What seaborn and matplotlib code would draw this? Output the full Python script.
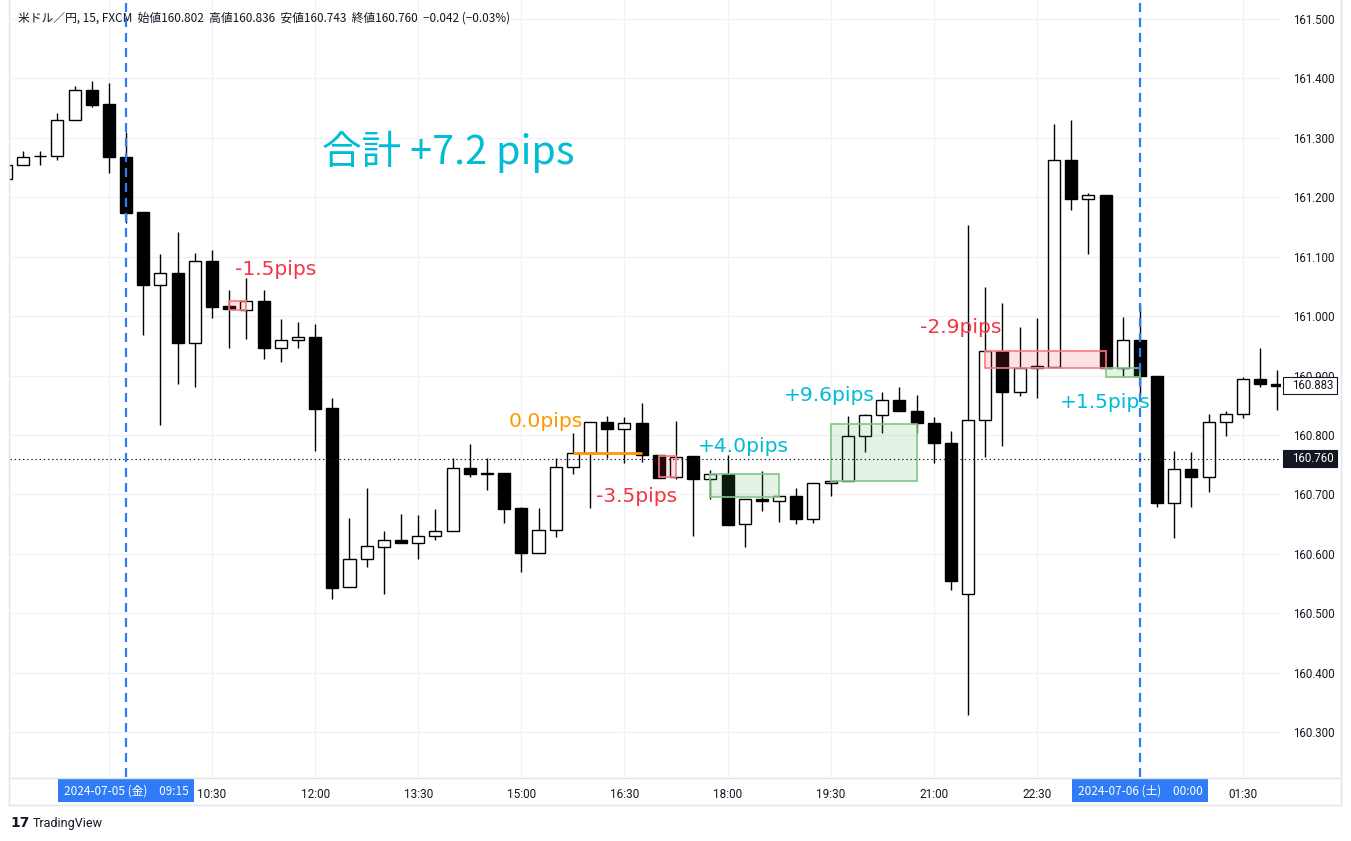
import numpy as np
import pandas as pd
import matplotlib.pyplot as plt
from matplotlib.patches import Rectangle
from matplotlib.lines import Line2D
from matplotlib.transforms import Bbox, blended_transform_factory
import seaborn as sns

# USD/JPY 15 min candles, 2024-07-05 07:30 -> 2024-07-06 02:00 (FXCM)
opens = [161.231, 161.255, 161.269, 161.269, 161.330, 161.380, 161.357, 161.267,
         161.175, 161.053, 161.072, 160.954, 161.092, 161.017, 161.011, 161.025,
         160.946, 160.959, 160.965, 160.845, 160.544, 160.592, 160.612, 160.624,
         160.618, 160.630, 160.638, 160.744, 160.735, 160.736, 160.677, 160.602,
         160.640, 160.746, 160.769, 160.822, 160.810, 160.820, 160.767, 160.729,
         160.765, 160.725, 160.735, 160.650, 160.692, 160.688, 160.697, 160.659,
         160.719, 160.722, 160.799, 160.833, 160.858, 160.841, 160.820, 160.786,
         160.533, 160.825, 160.942, 160.873, 160.912, 160.915, 161.262, 161.197,
         161.203, 160.913, 160.959, 160.899, 160.685, 160.742, 160.730, 160.822,
         160.836, 160.894, 160.885]
highs = [161.258, 161.278, 161.278, 161.342, 161.387, 161.396, 161.393, 161.310,
         161.175, 161.105, 161.141, 161.106, 161.111, 161.044, 161.064, 161.044,
         160.995, 160.990, 160.987, 160.862, 160.660, 160.711, 160.638, 160.667,
         160.665, 160.675, 160.761, 160.785, 160.761, 160.736, 160.679, 160.677,
         160.761, 160.803, 160.822, 160.832, 160.830, 160.853, 160.767, 160.824,
         160.765, 160.741, 160.766, 160.692, 160.740, 160.697, 160.710, 160.719,
         160.722, 160.832, 160.835, 160.872, 160.880, 160.867, 160.830, 160.806,
         161.153, 161.049, 161.022, 160.982, 160.996, 161.323, 161.330, 161.207,
         161.203, 160.998, 161.019, 160.899, 160.773, 160.771, 160.835, 160.840,
         160.897, 160.946, 160.909]
lows = [161.228, 161.255, 161.255, 161.263, 161.330, 161.352, 161.241, 161.157,
        160.968, 160.817, 160.885, 160.880, 160.997, 160.946, 160.962, 160.927,
        160.923, 160.947, 160.773, 160.524, 160.544, 160.577, 160.533, 160.618,
        160.591, 160.624, 160.638, 160.730, 160.707, 160.651, 160.570, 160.602,
        160.629, 160.735, 160.677, 160.762, 160.752, 160.755, 160.728, 160.726,
        160.630, 160.693, 160.649, 160.612, 160.672, 160.654, 160.650, 160.652,
        160.697, 160.722, 160.772, 160.804, 160.841, 160.803, 160.753, 160.539,
        160.329, 160.763, 160.781, 160.865, 160.862, 160.915, 161.178, 161.105,
        160.912, 160.897, 160.868, 160.679, 160.626, 160.679, 160.704, 160.799,
        160.829, 160.880, 160.842]
closes = [161.255, 161.268, 161.269, 161.330, 161.380, 161.356, 161.267, 161.174,
          161.053, 161.072, 160.954, 161.092, 161.016, 161.012, 161.025, 160.946,
          160.959, 160.964, 160.844, 160.543, 160.592, 160.613, 160.624, 160.618,
          160.630, 160.638, 160.744, 160.735, 160.735, 160.676, 160.602, 160.640,
          160.746, 160.770, 160.822, 160.810, 160.820, 160.767, 160.728, 160.763,
          160.725, 160.735, 160.649, 160.692, 160.688, 160.697, 160.659, 160.719,
          160.722, 160.799, 160.833, 160.858, 160.841, 160.820, 160.786, 160.554,
          160.825, 160.942, 160.872, 160.912, 160.916, 161.262, 161.197, 161.203,
          160.912, 160.959, 160.899, 160.685, 160.742, 160.730, 160.822, 160.835,
          160.894, 160.885, 160.883]

tick_labels = ["07:30", "", "10:30", "12:00", "13:30", "15:00", "16:30",
               "18:00", "19:30", "21:00", "22:30", "", "01:30"]
price_ticks = [161.5, 161.4, 161.3, 161.2, 161.1, 161.0, 160.9,
               160.8, 160.7, 160.6, 160.5, 160.4, 160.3]

# trades (candle positions + prices)
trade_start = [13, 33, 38, 41, 48, 57, 64]
trade_end = [14, 37, 39, 45, 53, 64, 66]
trade_entry = [161.026, 160.770, 160.764, 160.735, 160.722, 160.942, 160.913]
trade_exit = [161.011, 160.770, 160.729, 160.695, 160.818, 160.913, 160.898]
trade_pips = ["-1.5pips", "0.0pips", "-3.5pips", "+4.0pips", "+9.6pips", "-2.9pips", "+1.5pips"]
label_x = [13.34, 29.28, 34.35, 40.28, 45.29, 53.2, 61.35]
label_y = [161.078, 160.823, 160.696, 160.780, 160.867, 160.980, 160.855]
total_text = "合計 +7.2 pips"

session_pos = [7, 66]
session_labels = ["2024-07-05 (金)　09:15", "2024-07-06 (土)　00:00"]
crosshair_price = 160.760
last_price = 160.883
header = "米ドル／円, 15, FXCM  始値160.802  高値160.836  安値160.743  終値160.760  −0.042 (−0.03%)"

RED = "#F23645"
CYAN = "#00BCD4"
ORANGE = "#FF9800"
BLUE = "#2F7CF6"
TXT = "#131722"

df = pd.DataFrame({"open": opens, "high": highs, "low": lows, "close": closes})
df["pos"] = np.arange(len(df))
df["up"] = df["close"] >= df["open"]

sns.set_theme(style="white")
plt.rcParams["font.family"] = ["Roboto", "Noto Sans CJK JP", "DejaVu Sans"]
plt.rcParams["lines.scale_dashes"] = False

W, H = 1351, 841
fig = plt.figure(figsize=(W / 100, H / 100), dpi=100)
fig.patch.set_facecolor("white")
ax = fig.add_axes([10 / W, (H - 777) / H, (1281 - 10) / W, 777 / H])

# grid
ax.set_xticks(np.arange(0, len(df), 6))
ax.set_xticklabels(tick_labels)
ax.set_yticks(price_ticks)
ax.set_yticklabels([f"{p:.3f}" for p in price_ticks])
ax.grid(True, color="#F0F2F6", lw=1.0, zorder=0)
ax.set_axisbelow(True)

# candles
ax.vlines(df["pos"], df["low"], df["high"], color="black", lw=1.0, zorder=2)
bottom = df[["open", "close"]].min(axis=1)
height = (df["close"] - df["open"]).abs().clip(lower=0.0004)
ax.bar(df["pos"], height, bottom=bottom, width=0.7,
       color=np.where(df["up"], "white", "black"), edgecolor="black", lw=1.0, zorder=3)

# trade boxes
for s, e, en, ex, lab in zip(trade_start, trade_end, trade_entry, trade_exit, trade_pips):
    if lab.startswith("0"):
        ax.hlines(en, s, e, color=ORANGE, lw=2, zorder=4)
        continue
    win = lab.startswith("+")
    fc = (0.30, 0.69, 0.31, 0.15) if win else (0.95, 0.21, 0.27, 0.15)
    ec = "#81C784" if win else "#F77C80"
    ax.add_patch(Rectangle((s, min(en, ex)), e - s, abs(en - ex), fc=fc, ec=ec, lw=1.2, zorder=4))

for x, y, lab in zip(label_x, label_y, trade_pips):
    col = CYAN if lab.startswith("+") else (RED if lab.startswith("-") else ORANGE)
    ax.text(x, y, lab, color=col, fontsize=14.6, ha="left", va="center", zorder=6,
            family="DejaVu Sans")

ax.text(18.4, 161.276, total_text, color=CYAN, fontsize=28.5, ha="left", va="center",
        zorder=6, family=["Noto Sans CJK JP", "DejaVu Sans"])

# session markers
for p in session_pos:
    ax.axvline(p, color=BLUE, lw=1.6, dashes=(6.5, 4.3), zorder=5)

ax.axhline(crosshair_price, color=TXT, lw=0.8, dashes=(1, 2), zorder=5)

ax.set_xlim(0.243, 74.21)
ax.set_ylim(160.2243, 161.532)

for sp in ax.spines.values():
    sp.set_visible(False)

ax.yaxis.tick_right()
ax.tick_params(axis="y", length=0, pad=9, labelsize=8.3, labelcolor=TXT)
ax.tick_params(axis="x", length=0, pad=8, labelsize=8.5, labelcolor=TXT)
for t in ax.get_yticklabels():
    t.set_horizontalalignment("left")
first = ax.get_xticklabels()[0]
first.set_clip_on(True)
first.set_clip_box(Bbox.from_extents(9, 0, W, H))

trans = blended_transform_factory(ax.transData, ax.transAxes)
for p, lab in zip(session_pos, session_labels):
    ax.text(p, -0.0175, lab, transform=trans, ha="center", va="center", color="white",
            fontsize=8.5, family=["Noto Sans CJK JP", "DejaVu Sans"], clip_on=False,
            bbox=dict(boxstyle="square,pad=0.45", fc=BLUE, ec="none"))

# price labels on the right scale
ptrans = blended_transform_factory(ax.transAxes, ax.transData)
px = 1.0 / (1281 - 10)
box_h = 16.6 / 594.2
for price, fc, tc in [(crosshair_price, TXT, "white"), (last_price, "white", TXT)]:
    ax.add_patch(Rectangle((1283 * px - 10 * px, price - box_h / 2), 54 * px, box_h,
                           transform=ptrans, fc=fc, ec=TXT, lw=0.8, clip_on=False, zorder=7))
    ax.text((1292 - 10) * px, price, f"{price:.3f}", transform=ptrans, ha="left", va="center",
            color=tc, fontsize=8.3, clip_on=False, zorder=8)

# frame lines
border = "#E0E3EB"
fig.add_artist(Line2D([8 / W, 1341 / W], [1 - 777.5 / H] * 2, color=border, lw=1))
fig.add_artist(Line2D([8 / W, 1341 / W], [1 - 805 / H] * 2, color=border, lw=1))
fig.add_artist(Line2D([1341 / W] * 2, [1 - 805 / H, 1], color=border, lw=1))
fig.add_artist(Line2D([9 / W] * 2, [1 - 805 / H, 1], color=border, lw=1))

fig.text(18 / W, 1 - 18 / H, header, fontsize=8.5, color=TXT, va="center", ha="left",
         family=["Noto Sans CJK JP", "DejaVu Sans"])
fig.text(10 / W, 1 - 823 / H, "17", fontsize=10, color=TXT, va="center", ha="left",
         weight="heavy", family="DejaVu Sans")
fig.text(33 / W, 1 - 823 / H, "TradingView", fontsize=9, color=TXT, va="center", ha="left")

fig.savefig("out.png", dpi=100)
